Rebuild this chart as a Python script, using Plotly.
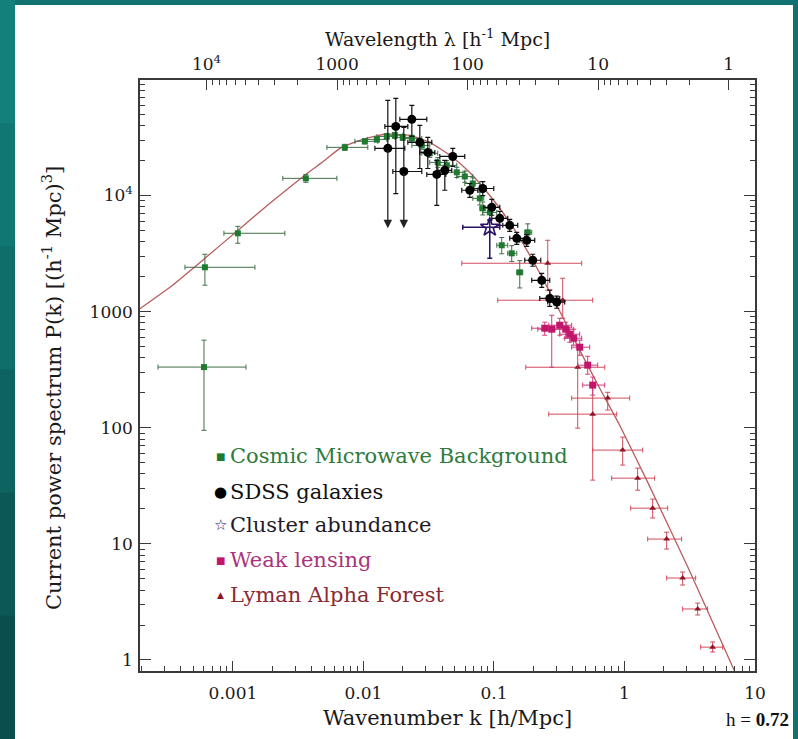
import math
import plotly.graph_objects as go

# ---------------- data ----------------
# Model power spectrum curve
model_k = [1.94e-4, 3.29e-4, 6.10e-4, 1.09e-3, 1.92e-3, 3.62e-3, 5.06e-3, 6.60e-3, 9.38e-3,
           0.0146, 0.0227, 0.0322, 0.0459, 0.0653, 0.0929, 0.132, 0.198, 0.303, 0.454,
           0.646, 0.919, 1.479, 3.157, 6.98]
model_P = [1060, 1620, 2880, 5010, 8570, 15200, 20100, 25500, 29900,
           33700, 33000, 28700, 22200, 15800, 10000, 5870, 2770, 1130, 466,
           219, 105, 35.4, 5.84, 0.80]

# Cosmic Microwave Background
cmb_k = [6.00e-4, 6.10e-4, 1.09e-3, 3.62e-3, 7.20e-3, 1.025e-2, 1.267e-2, 1.51e-2, 1.74e-2,
         2.00e-2, 2.35e-2, 2.80e-2, 3.22e-2, 3.71e-2, 4.35e-2, 5.19e-2, 5.98e-2, 6.88e-2,
         7.79e-2, 8.21e-2, 9.29e-2, 0.1147, 0.1368, 0.1576, 0.1815]
cmb_P = [333, 2410, 4730, 14060, 26000, 29300, 30450, 32300, 33000,
         31700, 31050, 27000, 23100, 19300, 18200, 15850, 14600, 12700,
         9460, 7760, 7160, 3730, 3180, 2180, 4820]
cmb_klo = [2.665e-4, 4.29e-4, 8.53e-4, 2.41e-3, 5.25e-3, 8.60e-3, 1.07e-2, 1.27e-2, 1.51e-2,
           1.74e-2, 2.00e-2, 2.35e-2, 2.80e-2, 3.22e-2, 3.71e-2, 4.35e-2, 5.19e-2, 5.98e-2,
           6.88e-2, 7.79e-2, 8.21e-2, 0.1051, 0.1275, 0.1495, 0.1721]
cmb_khi = [1.258e-3, 1.474e-3, 2.50e-3, 6.26e-3, 1.08e-2, 1.289e-2, 1.51e-2, 1.74e-2, 2.00e-2,
           2.35e-2, 2.80e-2, 3.22e-2, 3.71e-2, 4.35e-2, 5.19e-2, 5.98e-2, 6.88e-2, 7.79e-2,
           8.35e-2, 9.29e-2, 0.105, 0.1275, 0.1495, 0.1662, 0.1947]
cmb_Plo = [95, 1690, 3880, 13000, 24500, 27800, 28900, 30500, 31000,
           29800, 29000, 25000, 21300, 17500, 16500, 14300, 13000, 11300,
           8300, 6800, 6200, 3150, 2700, 1600, 4000]
cmb_Phi = [568, 3120, 5430, 15200, 27600, 30800, 32000, 34200, 35000,
           33600, 33000, 29000, 25000, 21200, 20000, 17500, 16200, 14200,
           10700, 8800, 8200, 4350, 3700, 2750, 5700]

# SDSS galaxies
sdss_k = [0.01537, 0.01770, 0.02039, 0.02348, 0.02703, 0.03112, 0.03648, 0.04201, 0.04836,
          0.06527, 0.08207, 0.09620, 0.1108, 0.1321, 0.1495, 0.1783, 0.1982, 0.2323, 0.2675, 0.3027]
sdss_P = [25500, 39400, 16100, 45300, 28700, 23500, 15200, 16500, 21700,
          11100, 11500, 7910, 6360, 5540, 4280, 4110, 2770, 1860, 1300, 1210]
sdss_klo = [0.01223, 0.01459, 0.01679, 0.01900, 0.02188, 0.02703, 0.03058, 0.03713, 0.03846,
            0.05667, 0.07004, 0.08354, 0.0962, 0.1168, 0.1321, 0.1576, 0.1721, 0.1947, 0.2242, 0.2582]
sdss_khi = [0.02075, 0.02188, 0.02800, 0.03058, 0.03340, 0.03522, 0.04275, 0.04752, 0.05976,
            0.07516, 0.09966, 0.1108, 0.1275, 0.1521, 0.1721, 0.2053, 0.2282, 0.2675, 0.3190, 0.3484]
sdss_Plo = [25500, 10400, 16100, 32300, 17100, 17100, 8240, 11100, 17800,
            9650, 10000, 6760, 5540, 4920, 3800, 3650, 2460, 1620, 1110, 1070]
sdss_Phi = [65900, 68600, 38600, 59700, 40200, 31700, 20100, 20100, 25500,
            12700, 13200, 9270, 7310, 6240, 4820, 4600, 3120, 2140, 1530, 1360]
# upper limits (arrows) for two SDSS points
limit_k = [0.01537, 0.02039]
limit_from = [25500, 16100]
limit_to = [5220, 5220]

# Cluster abundance
clu_k = [0.09286]
clu_P = [5330]
clu_klo = [0.05769]
clu_khi = [0.1108]
clu_Plo = [2880]
clu_Phi = [6120]

# Weak lensing
wl_k = [0.2771, 0.3190, 0.3546, 0.3804, 0.4083, 0.4539, 0.5226, 0.5707, 0.2449]
wl_P = [706, 764, 706, 639, 590, 494, 346, 233, 720]
wl_klo = [0.2165, 0.2628, 0.2920, 0.3190, 0.3484, 0.3940, 0.4382, 0.4785, 0.1947]
wl_khi = [0.3484, 0.3940, 0.4083, 0.4539, 0.4701, 0.5413, 0.6233, 0.7054, 0.2920]
wl_Plo = [332, 627, 590, 545, 514, 421, 289, 191, 627]
wl_Phi = [931, 877, 811, 734, 706, 568, 413, 273, 811]

# Lyman Alpha Forest
lya_k = [0.2582, 0.3363, 0.4382, 0.5707, 0.7438, 0.9687, 1.262, 1.644, 2.104, 2.790, 3.636, 4.735]
lya_P = [2610, 1254, 332, 131, 180, 64.2, 36.8, 20.3, 11.0, 5.08, 2.75, 1.29]
lya_klo = [0.05667, 0.1069, 0.1752, 0.2628, 0.3940, 0.5707, 0.7980, 1.116, 1.506, 2.104, 2.790, 3.833]
lya_khi = [0.4701, 0.5707, 0.7054, 0.8717, 1.096, 1.379, 1.703, 2.142, 2.742, 3.510, 4.336, 5.648]
lya_Plo = [1529, 877, 99.2, 35.4, 142, 47.7, 29.0, 16.7, 9.02, 4.42, 2.44, 1.17]
lya_Phi = [4117, 1939, 514, 233, 202, 83.0, 44.9, 24.3, 12.6, 5.72, 3.09, 1.43]

# Axis ticks
k_ticks = [0.001, 0.01, 0.1, 1, 10]
k_ticktext = ["0.001", "0.01", "0.1", "1", "10"]
lam_ticks = [1e4, 1000, 100, 10, 1]
lam_ticktext = ["10<sup>4</sup>", "1000", "100", "10", "1"]
P_ticks = [1, 10, 100, 1000, 1e4, 1e5]
P_ticktext = ["1", "10", "100", "1000", "10<sup>4</sup>", "10<sup>5</sup>"]

legend_labels = ["Cosmic Microwave Background", "SDSS galaxies", "Cluster abundance",
                 "Weak lensing", "Lyman Alpha Forest"]

# ---------------- styling ----------------
FONT = "DejaVu Serif"
TEAL = "#107270"
AX = "#3a3a3a"

W, H = 798, 739
ML, MR, MT, MB = 140, 43, 80, 68
PW, PH = W - ML - MR, H - MT - MB


def px(x):
    return (x - ML) / PW


def py(y):
    return (H - MB - y) / PH


def err(v, lo, hi):
    return dict(type="data", symmetric=False,
                array=[h - a for a, h in zip(v, hi)],
                arrayminus=[a - l for a, l in zip(v, lo)])


fig = go.Figure()

# model curve
fig.add_trace(go.Scatter(x=model_k, y=model_P, mode="lines",
                         line=dict(color="#b85c5c", width=1.3, shape="spline", smoothing=0.5),
                         hoverinfo="skip", showlegend=False))


def add_series(k, P, klo, khi, Plo, Phi, mcol, ecol, symbol, size, ew=1.0, line=None):
    ex = err(k, klo, khi)
    ey = err(P, Plo, Phi)
    ex.update(color=ecol, thickness=ew, width=2.5)
    ey.update(color=ecol, thickness=ew, width=2.5)
    fig.add_trace(go.Scatter(x=k, y=P, mode="markers",
                             marker=dict(symbol=symbol, size=size, color=mcol,
                                         line=line or dict(width=0)),
                             error_x=ex, error_y=ey, showlegend=False))


add_series(lya_k, lya_P, lya_klo, lya_khi, lya_Plo, lya_Phi, "#8e1526", "#d24c5c", "triangle-up", 6)
add_series(wl_k, wl_P, wl_klo, wl_khi, wl_Plo, wl_Phi, "#c2166c", "#cc3d7c", "square", 7)
add_series(cmb_k, cmb_P, cmb_klo, cmb_khi, cmb_Plo, cmb_Phi, "#1d7a2f", "#406e48", "square", 6)
add_series(sdss_k, sdss_P, sdss_klo, sdss_khi, sdss_Plo, sdss_Phi, "#000000", "#111111", "circle", 9, ew=1.2)
add_series(clu_k, clu_P, clu_klo, clu_khi, clu_Plo, clu_Phi, "#2b1166", "#2b1166", "star-open", 14, ew=1.5,
           line=dict(width=1.6, color="#2b1166"))

# invisible trace to activate the top (wavelength) axis
fig.add_trace(go.Scatter(x=model_k, y=model_P, xaxis="x2", mode="lines", opacity=0,
                         line=dict(width=0.1), hoverinfo="skip", showlegend=False))

# upper-limit arrows
for kk, p0, p1 in zip(limit_k, limit_from, limit_to):
    fig.add_annotation(x=math.log10(kk), y=math.log10(p1), ax=math.log10(kk), ay=math.log10(p0),
                       xref="x", yref="y", axref="x", ayref="y", text="", showarrow=True,
                       arrowhead=2, arrowsize=1.3, arrowwidth=1.3, arrowcolor="#222222")

minor_k = [m * 10.0 ** e for e in range(-4, 1) for m in range(2, 10)]
minor_P = [m * 10.0 ** e for e in range(0, 5) for m in range(2, 10)]
lam_minor = [2 * math.pi / (m * 10.0 ** e) for e in range(0, 4) for m in range(2, 10)]

xr = [-3.712, 1.0]
yr = [-0.095, 4.995]
tickfont = dict(family=FONT, size=17, color="#1a1a1a")

fig.update_layout(
    width=W, height=H,
    margin=dict(l=ML, r=MR, t=MT, b=MB),
    paper_bgcolor=TEAL, plot_bgcolor="white",
    showlegend=False,
    xaxis=dict(type="log", range=xr, showgrid=False, zeroline=False,
               showline=True, linecolor=AX, linewidth=1.5,
               ticks="inside", ticklen=10, tickwidth=1.2, tickcolor=AX,
               tickmode="array", tickvals=k_ticks, ticktext=k_ticktext, tickfont=tickfont,
               ticklabelstandoff=6,
               minor=dict(ticks="inside", ticklen=5, tickwidth=1, tickcolor=AX,
                          tickmode="array", tickvals=minor_k, showgrid=False)),
    xaxis2=dict(type="log", range=xr, overlaying="x", side="top", anchor="y",
                showgrid=False, zeroline=False, showline=True, linecolor=AX, linewidth=1.5,
                ticks="inside", ticklen=10, tickwidth=1.2, tickcolor=AX,
                tickmode="array", tickvals=[2 * math.pi / l for l in lam_ticks],
                ticktext=lam_ticktext, tickfont=tickfont, ticklabelstandoff=1,
                minor=dict(ticks="inside", ticklen=5, tickwidth=1, tickcolor=AX,
                           tickmode="array", tickvals=lam_minor, showgrid=False)),
    yaxis=dict(type="log", range=yr, showgrid=False, zeroline=False,
               showline=True, linecolor=AX, linewidth=1.5, mirror="ticks",
               ticks="inside", ticklen=11, tickwidth=1.2, tickcolor=AX,
               tickmode="array", tickvals=P_ticks, ticktext=P_ticktext, tickfont=tickfont,
               ticklabelstandoff=2,
               minor=dict(ticks="inside", ticklen=5, tickwidth=1, tickcolor=AX,
                          tickmode="array", tickvals=minor_P, showgrid=False)),
)

# background panels
fig.add_shape(type="rect", xref="paper", yref="paper", x0=px(15), x1=px(793), y0=py(745), y1=py(5),
              fillcolor="white", line=dict(width=0), layer="below")
bands = ["#13807c", "#117773", "#0f6d6a", "#0d6360", "#0b5856", "#0a4e4d"]
for i, c in enumerate(bands):
    fig.add_shape(type="rect", xref="paper", yref="paper", x0=px(-5), x1=px(15),
                  y0=py(H * (i + 1) / len(bands) + 2), y1=py(H * i / len(bands)),
                  fillcolor=c, line=dict(width=0), layer="below")

TXT = "#1a1a1a"
# axis titles
fig.add_annotation(x=px(437), y=py(38), xref="paper", yref="paper", showarrow=False,
                   xanchor="center", yanchor="middle",
                   text="Wavelength λ [h<sup>-1</sup> Mpc]",
                   font=dict(family=FONT, size=19, color=TXT))
fig.add_annotation(x=px(447), y=py(718), xref="paper", yref="paper", showarrow=False,
                   xanchor="center", yanchor="middle",
                   text="Wavenumber k [h/Mpc]",
                   font=dict(family=FONT, size=21, color=TXT))
fig.add_annotation(x=px(52), y=py(388), xref="paper", yref="paper", showarrow=False, textangle=-90,
                   xanchor="center", yanchor="middle",
                   text="Current power spectrum P(k) [(h<sup>-1</sup> Mpc)<sup>3</sup>]",
                   font=dict(family=FONT, size=21, color=TXT))
fig.add_annotation(x=px(791), y=py(719), xref="paper", yref="paper", showarrow=False,
                   xanchor="right", yanchor="middle",
                   text="h = <b>0.72</b>",
                   font=dict(family="Liberation Serif", size=19, color="#111111"))

# legend (symbols + labels)
leg_y = [456, 492, 525, 560, 595]
leg_sym = ["■", "●", "☆", "■", "▲"]
leg_symsize = [10, 15, 15, 10, 9]
leg_symcol = ["#1d7a2f", "#000000", "#2b1166", "#c2166c", "#8e1526"]
leg_txtcol = ["#2f7a3c", "#111111", "#1e1a2a", "#a8357c", "#8a2a33"]
for yy, s, ss, sc, lab, tc in zip(leg_y, leg_sym, leg_symsize, leg_symcol, legend_labels, leg_txtcol):
    fig.add_annotation(x=px(220), y=py(yy), xref="paper", yref="paper", showarrow=False,
                       xanchor="center", yanchor="middle",
                       text=s, font=dict(family="DejaVu Sans", size=ss, color=sc))
    fig.add_annotation(x=px(228), y=py(yy), xref="paper", yref="paper", showarrow=False,
                       xanchor="left", yanchor="middle",
                       text=lab, font=dict(family=FONT, size=21, color=tc))

fig.write_html("out.html")
